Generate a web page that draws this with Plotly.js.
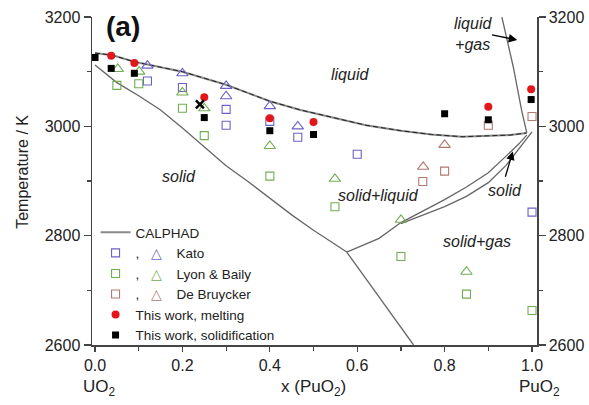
<!DOCTYPE html>
<html>
<head>
<meta charset="utf-8">
<script src="https://cdn.plot.ly/plotly-3.0.1.min.js"></script>
<style>html,body{margin:0;padding:0;background:#fff;}#chart{width:589px;height:405px;}</style>
</head>
<body>
<div id="chart"></div>
<script>
// ---- CALPHAD phase boundaries ----
const liquidusX = [0, 0.04, 0.09, 0.2, 0.3, 0.4, 0.47, 0.54, 0.62, 0.7, 0.77, 0.84, 0.9, 0.95, 0.988];
const liquidusT = [3134, 3130, 3118, 3100, 3076, 3046, 3030, 3017, 3002, 2992, 2985, 2981, 2982, 2984, 2988];
const solidusX = [0, 0.05, 0.1, 0.15, 0.2, 0.25, 0.3, 0.35, 0.4, 0.45, 0.5, 0.576];
const solidusT = [3112, 3080, 3056, 3030, 2997, 2963, 2928, 2899, 2868, 2838, 2810, 2770];
const lowerX = [0.576, 0.729];
const lowerT = [2770, 2600];
const sgUpperX = [0.576, 0.65, 0.7, 0.75, 0.8, 0.85, 0.9, 0.94, 0.97, 0.988];
const sgUpperT = [2770, 2795, 2824, 2845, 2866, 2889, 2915, 2945, 2968, 2984];
const sgLowerX = [0.7, 0.75, 0.8, 0.85, 0.9, 0.94, 0.97, 1.0];
const sgLowerT = [2822, 2838, 2853, 2872, 2897, 2928, 2958, 2990];
const lgX = [0.931, 0.957, 0.976, 0.988];
const lgT = [3200, 3109, 3030, 2988];

// ---- Literature data ----
const katoSqX = [0.12, 0.2, 0.3, 0.3, 0.4, 0.464, 0.6, 1.0];
const katoSqT = [3083, 3071, 3031, 3002, 3009, 2980, 2949, 2843];
const katoTrX = [0.12, 0.2, 0.3, 0.3, 0.4, 0.464];
const katoTrT = [3111, 3097, 3074, 3055, 3037, 3000];
const lyonSqX = [0.05, 0.1, 0.2, 0.25, 0.4, 0.549, 0.7, 0.85, 1.0];
const lyonSqT = [3075, 3078, 3033, 2983, 2909, 2853, 2762, 2693, 2663];
const lyonTrX = [0.052, 0.101, 0.2, 0.25, 0.4, 0.549, 0.7, 0.85];
const lyonTrT = [3105, 3100, 3062, 3033, 2964, 2904, 2829, 2734];
const debSqX = [0.75, 0.8, 0.9, 1.0];
const debSqT = [2899, 2918, 3002, 3018];
const debTrX = [0.751, 0.8];
const debTrT = [2926, 2966];
// ---- This work ----
const meltX = [0.037, 0.09, 0.25, 0.4, 0.5, 0.9, 0.998];
const meltT = [3129, 3116, 3053, 3015, 3008, 3036, 3068];
const solidifX = [0.0, 0.037, 0.09, 0.25, 0.4, 0.5, 0.8, 0.9, 0.998];
const solidifT = [3126, 3106, 3097, 3016, 2992, 2985, 3023, 3012, 3049];
const crossX = [0.24];
const crossT = [3040];

const xTickVals = [0, 0.2, 0.4, 0.6, 0.8, 1.0];
const xTickText = ['0.0', '0.2', '0.4', '0.6', '0.8', '1.0'];
const yTickVals = [2600, 2800, 3000, 3200];

const cBlue = '#6a62c8', cGreen = '#72ad52', cBrown = '#b37870', cRed = '#e3161b';
const lineCol = '#666';
const NB = '\u00A0';

function calLine(x, y, extra) {
  return Object.assign({x: x, y: y, mode: 'lines', type: 'scatter', hoverinfo: 'skip',
    line: {color: lineCol, width: 1.3}, showlegend: false, legendgroup: 'cal'}, extra || {});
}
function openMk(sym, size, col) {
  return {symbol: sym, size: size, color: col, line: {width: 1.1, color: col}};
}
const traces = [
  calLine(liquidusX, liquidusT, {name: 'CALPHAD', showlegend: true, legendrank: 1, line: {color: '#8a8a8a', width: 2}}),
  calLine(liquidusX, liquidusT, {line: {color: '#222', width: 1, dash: '5px,3px'}}),
  calLine(solidusX, solidusT),
  calLine(lowerX, lowerT),
  calLine(sgUpperX, sgUpperT),
  calLine(sgLowerX, sgLowerT),
  calLine(lgX, lgT),
  {x: katoSqX, y: katoSqT, type: 'scatter', mode: 'markers', legendrank: 2,
   name: ','+NB+NB+NB+'<span style="color:'+cBlue+'">△</span>'+NB+NB+NB+NB+'Kato',
   marker: openMk('square-open', 8, cBlue)},
  {x: katoTrX, y: katoTrT, type: 'scatter', mode: 'markers', showlegend: false,
   marker: openMk('triangle-up-open', 10, cBlue)},
  {x: lyonSqX, y: lyonSqT, type: 'scatter', mode: 'markers', legendrank: 3,
   name: ','+NB+NB+NB+'<span style="color:'+cGreen+'">△</span>'+NB+NB+NB+NB+'Lyon &amp; Baily',
   marker: openMk('square-open', 8, cGreen)},
  {x: lyonTrX, y: lyonTrT, type: 'scatter', mode: 'markers', showlegend: false,
   marker: openMk('triangle-up-open', 10, cGreen)},
  {x: debSqX, y: debSqT, type: 'scatter', mode: 'markers', legendrank: 4,
   name: ','+NB+NB+NB+'<span style="color:'+cBrown+'">△</span>'+NB+NB+NB+NB+'De Bruycker',
   marker: openMk('square-open', 8, cBrown)},
  {x: debTrX, y: debTrT, type: 'scatter', mode: 'markers', showlegend: false,
   marker: openMk('triangle-up-open', 10, cBrown)},
  {x: meltX, y: meltT, type: 'scatter', mode: 'markers', legendrank: 5, name: 'This work, melting',
   marker: {symbol: 'circle', size: 8, color: cRed}},
  {x: solidifX, y: solidifT, type: 'scatter', mode: 'markers', legendrank: 6, name: 'This work, solidification',
   marker: {symbol: 'square', size: 7, color: '#000'}},
  {x: crossX, y: crossT, type: 'scatter', mode: 'markers', showlegend: false,
   marker: {symbol: 'x-thin-open', size: 8, color: '#000', line: {width: 2.5, color: '#111'}}},
  {x: [], y: [], type: 'scatter', yaxis: 'y2', showlegend: false, hoverinfo: 'skip'}
];

const axCol = '#444';
const FAM = 'Liberation Sans, Arial, sans-serif';
const tickFont = {family: FAM, size: 16, color: '#222'};
const italic = (txt, x, y) => ({text: txt, x: x, y: y, xref: 'x', yref: 'y', showarrow: false,
  xanchor: 'center', yanchor: 'middle',
  font: {family: FAM, size: 16, color: '#222', style: 'italic'}});
const bottomLabel = (txt, x) => ({text: txt, x: x, y: -0.131, xref: 'paper', yref: 'paper', showarrow: false,
  xanchor: 'center', yanchor: 'middle', font: {family: FAM, size: 17, color: '#222'}});

const layout = {
  width: 589, height: 405,
  margin: {l: 92, r: 52, t: 17, b: 60, pad: 0},
  paper_bgcolor: '#fff', plot_bgcolor: '#fff',
  font: {family: FAM, color: '#222'},
  showlegend: true,
  legend: {x: 0.008, y: 0.39, xanchor: 'left', yanchor: 'top', bgcolor: 'rgba(0,0,0,0)',
    font: {size: 13.5, color: '#222'}, traceorder: 'normal', itemwidth: 30},
  xaxis: {range: [-0.0069, 1.0114], showgrid: false, zeroline: false, showline: true, linecolor: axCol, linewidth: 1.5,
    ticks: 'outside', ticklen: 5, tickwidth: 1.2, tickcolor: axCol, tickvals: xTickVals, ticktext: xTickText,
    tickfont: tickFont, mirror: false,
    minor: {tickvals: [0.1, 0.3, 0.5, 0.7, 0.9], ticks: 'outside', ticklen: 4, tickcolor: axCol, tickwidth: 1.2}},
  yaxis: {range: [2600, 3200], showgrid: false, zeroline: false, showline: true, linecolor: axCol, linewidth: 1.5,
    ticks: 'outside', ticklen: 7, tickwidth: 1.2, tickcolor: axCol, tickvals: yTickVals, tickfont: tickFont,
    minor: {tickvals: [2700, 2900, 3100], ticks: 'outside', ticklen: 4, tickcolor: axCol, tickwidth: 1.2}},
  yaxis2: {range: [2600, 3200], overlaying: 'y', side: 'right', showgrid: false, zeroline: false, showline: true,
    linecolor: axCol, linewidth: 1.5, ticks: 'outside', ticklen: 7, tickwidth: 1.2, tickcolor: axCol,
    tickvals: yTickVals, tickfont: tickFont,
    minor: {tickvals: [2700, 2900, 3100], ticks: 'outside', ticklen: 4, tickcolor: axCol, tickwidth: 1.2}},
  annotations: [
    {text: '<b>(a)</b>', x: 0.065, y: 3183, xref: 'x', yref: 'y', showarrow: false, xanchor: 'center', yanchor: 'middle',
     font: {size: 28, color: '#111', family: FAM}},
    italic('liquid', 0.584, 3094),
    italic('liquid<br>+gas', 0.866, 3169),
    italic('solid', 0.192, 2908),
    italic('solid+liquid', 0.648, 2873),
    italic('solid', 0.938, 2882),
    italic('solid+gas', 0.873, 2790),
    {text: '', x: 0.966, y: 3158, ax: 0.905, ay: 3168, xref: 'x', yref: 'y', axref: 'x', ayref: 'y',
     showarrow: true, arrowhead: 2, arrowsize: 1.3, arrowwidth: 1.3, arrowcolor: '#000'},
    {text: '', x: 0.956, y: 2954, ax: 0.938, ay: 2905, xref: 'x', yref: 'y', axref: 'x', ayref: 'y',
     showarrow: true, arrowhead: 2, arrowsize: 1.3, arrowwidth: 1.3, arrowcolor: '#000'},
    {text: 'Temperature / K', x: -0.158, y: 0.527, xref: 'paper', yref: 'paper', showarrow: false,
     xanchor: 'center', yanchor: 'middle', textangle: -90, font: {size: 16, color: '#222', family: FAM}},
    bottomLabel('UO<sub>2</sub>', 0.016),
    bottomLabel('x (PuO<sub>2</sub>)', 0.497),
    bottomLabel('PuO<sub>2</sub>', 1.005)
  ]
};

Plotly.newPlot('chart', traces, layout, {staticPlot: true, displayModeBar: false});
</script>
</body>
</html>
